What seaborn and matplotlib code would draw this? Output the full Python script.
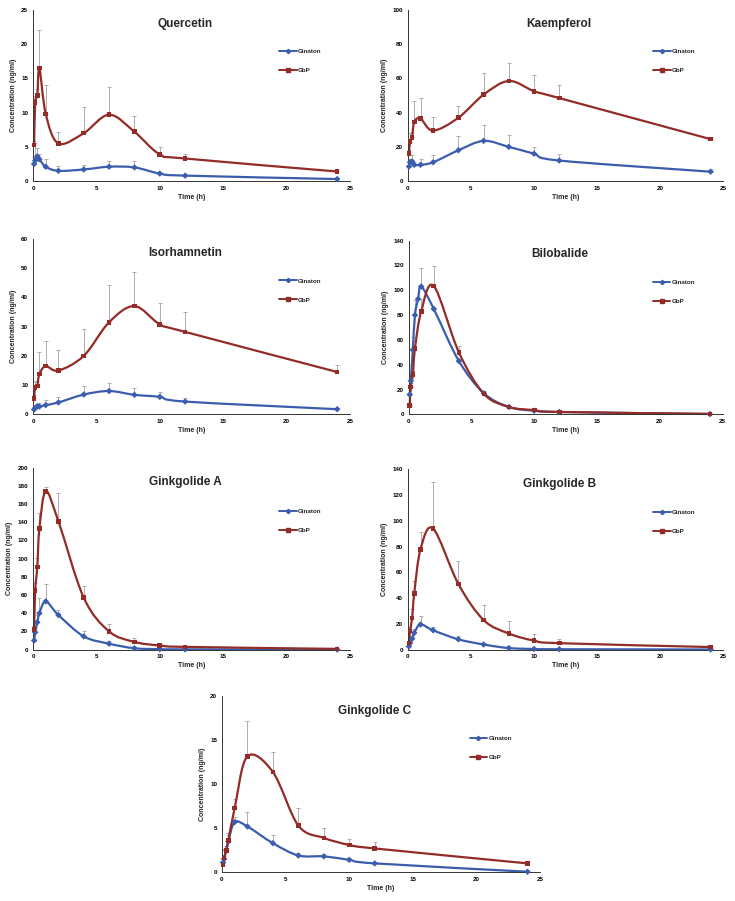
import numpy as np
import pandas as pd
import matplotlib
matplotlib.use("Agg")
import matplotlib.pyplot as plt
from matplotlib.path import Path
from matplotlib.patches import PathPatch
from matplotlib.lines import Line2D
import seaborn as sns

nan = np.nan

# sampling times (h)
times = [0.083, 0.167, 0.333, 0.5, 0.75, 1, 2, 4, 6, 8, 10, 12, 24]

# mean concentrations (ng/ml) and upper SD
quercetin_ginaton = [2.5, 3.0, 3.6, 3.2, nan, 2.1, 1.5, 1.7, 2.1, 2.0, 1.1, 0.8, 0.3]
quercetin_ginaton_sd = [1.0, 2.5, 1.3, 0.8, nan, 1.1, 0.7, 0.7, 0.8, 0.9, 0.3, 0.2, 0.1]
quercetin_gbp = [5.3, 11.5, 12.5, 16.5, nan, 9.8, 5.5, 7.0, 9.7, 7.2, 3.9, 3.3, 1.4]
quercetin_gbp_sd = [0.5, 1.0, 1.0, 5.5, nan, 4.2, 1.6, 3.8, 4.1, 2.3, 1.1, 0.7, 0.2]

kaempferol_ginaton = [8.5, 11.0, 11.5, 9.5, nan, 9.5, 11.0, 18.0, 23.5, 20.0, 16.0, 12.0, 5.5]
kaempferol_ginaton_sd = [1.0, 2.0, 3.5, 1.5, nan, 3.5, 4.5, 8.5, 9.5, 7.0, 4.0, 4.0, 1.5]
kaempferol_gbp = [16.0, 23.0, 25.5, 34.5, nan, 36.5, 29.5, 37.0, 50.5, 58.5, 52.5, 48.5, 24.5]
kaempferol_gbp_sd = [2.0, 5.0, 3.0, 12.5, nan, 12.0, 8.0, 7.0, 12.5, 10.5, 9.5, 7.5, 1.5]

isorhamnetin_ginaton = [1.7, 2.2, 2.8, 2.7, nan, 3.2, 4.1, 6.8, 8.0, 6.7, 6.0, 4.4, 1.8]
isorhamnetin_ginaton_sd = [0.3, 0.5, 0.8, 1.1, nan, 1.6, 1.7, 2.8, 2.6, 2.3, 1.8, 1.1, 0.3]
isorhamnetin_gbp = [5.5, 9.3, 9.7, 13.8, nan, 16.5, 15.0, 20.0, 31.5, 37.0, 30.8, 28.2, 14.5]
isorhamnetin_gbp_sd = [1.0, 2.0, 1.5, 7.5, nan, 8.7, 7.0, 9.2, 12.8, 11.5, 7.2, 6.8, 2.5]

bilobalide_ginaton = [16.0, 27.0, 52.0, 80.0, 93.0, 103.0, 85.0, 43.0, 17.0, 6.0, 3.0, 2.0, 0.3]
bilobalide_ginaton_sd = [4.0, 13.0, 10.0, 12.0, 0.0, 15.0, 0.0, 2.0, 1.5, 1.0, 0.5, 0.3, 0.1]
bilobalide_gbp = [7.0, 22.0, 32.0, 53.0, nan, 83.0, 103.5, 50.0, 16.5, 6.0, 3.5, 2.0, 0.5]
bilobalide_gbp_sd = [1.0, 3.0, 3.0, 6.0, nan, 10.0, 16.0, 5.0, 2.5, 1.0, 1.0, 0.5, 0.2]

ginkgolide_a_ginaton = [10.0, 19.0, 30.0, 40.0, nan, 53.0, 38.0, 14.5, 6.5, 1.5, 0.5, 0.3, 0.1]
ginkgolide_a_ginaton_sd = [2.0, 4.0, 8.0, 17.0, nan, 19.0, 5.0, 5.5, 2.5, 0.5, 0.2, 0.1, 0.0]
ginkgolide_a_gbp = [22.0, 65.0, 91.0, 133.0, nan, 174.0, 141.0, 57.0, 20.0, 8.5, 4.5, 3.0, 0.8]
ginkgolide_a_gbp_sd = [4.0, 8.0, 10.0, 17.0, nan, 5.0, 31.0, 13.0, 8.0, 4.5, 1.5, 1.0, 0.3]

ginkgolide_b_ginaton = [2.5, 5.0, 8.5, 13.0, nan, 19.5, 15.0, 8.0, 4.0, 1.2, 0.5, 0.3, 0.1]
ginkgolide_b_ginaton_sd = [0.5, 1.0, 2.0, 3.0, nan, 7.0, 2.5, 2.5, 1.5, 0.4, 0.2, 0.1, 0.0]
ginkgolide_b_gbp = [5.0, 14.5, 24.5, 43.5, nan, 78.0, 94.0, 51.0, 23.0, 12.5, 7.0, 5.0, 2.0]
ginkgolide_b_gbp_sd = [1.0, 3.0, 7.0, 10.0, nan, 13.0, 36.0, 18.0, 12.0, 9.5, 5.0, 3.0, 0.5]

ginkgolide_c_ginaton = [1.1, 1.5, 2.5, 3.5, nan, 5.7, 5.2, 3.3, 1.9, 1.8, 1.4, 1.0, 0.05]
ginkgolide_c_ginaton_sd = [0.2, 0.3, 0.5, 1.0, nan, 0.6, 1.6, 0.9, 0.3, 0.3, 0.2, 0.2, 0.0]
ginkgolide_c_gbp = [0.8, 1.6, 2.5, 3.6, nan, 7.3, 13.2, 11.4, 5.3, 3.9, 3.1, 2.7, 1.0]
ginkgolide_c_gbp_sd = [0.2, 0.3, 0.5, 0.6, nan, 1.0, 4.0, 2.3, 2.0, 1.1, 0.7, 0.7, 0.1]

compounds = ["Quercetin", "Kaempferol", "Isorhamnetin", "Bilobalide",
             "Ginkgolide A", "Ginkgolide B", "Ginkgolide C"]
series = {
    "Quercetin": (quercetin_ginaton, quercetin_ginaton_sd, quercetin_gbp, quercetin_gbp_sd),
    "Kaempferol": (kaempferol_ginaton, kaempferol_ginaton_sd, kaempferol_gbp, kaempferol_gbp_sd),
    "Isorhamnetin": (isorhamnetin_ginaton, isorhamnetin_ginaton_sd, isorhamnetin_gbp, isorhamnetin_gbp_sd),
    "Bilobalide": (bilobalide_ginaton, bilobalide_ginaton_sd, bilobalide_gbp, bilobalide_gbp_sd),
    "Ginkgolide A": (ginkgolide_a_ginaton, ginkgolide_a_ginaton_sd, ginkgolide_a_gbp, ginkgolide_a_gbp_sd),
    "Ginkgolide B": (ginkgolide_b_ginaton, ginkgolide_b_ginaton_sd, ginkgolide_b_gbp, ginkgolide_b_gbp_sd),
    "Ginkgolide C": (ginkgolide_c_ginaton, ginkgolide_c_ginaton_sd, ginkgolide_c_gbp, ginkgolide_c_gbp_sd),
}
y_max = [25, 100, 60, 140, 200, 140, 20]
y_step = [5, 20, 10, 20, 20, 20, 5]

# axes rectangles in figure fractions (left, bottom, width, height)
rects = [
    (0.045, 0.799, 0.431, 0.190),
    (0.555, 0.799, 0.429, 0.190),
    (0.045, 0.540, 0.431, 0.195),
    (0.556, 0.540, 0.427, 0.193),
    (0.045, 0.279, 0.431, 0.202),
    (0.555, 0.279, 0.429, 0.200),
    (0.302, 0.032, 0.433, 0.195),
]

BLUE = "#3A5DAE"
RED = "#932B27"

sns.set_style("white")
plt.rcParams["font.family"] = ["Liberation Sans", "DejaVu Sans"]
plt.rcParams["font.weight"] = "bold"


# Excel-like smoothed line through the points (cubic Bezier, Catmull-Rom tangents)
def smooth_path(x, y):
    p = np.column_stack([x, y])
    n = len(p)
    verts = [p[0]]
    codes = [Path.MOVETO]
    for i in range(n - 1):
        p0 = p[i - 1] if i > 0 else p[i]
        p3 = p[i + 2] if i + 2 < n else p[i + 1]
        c1 = p[i] + (p[i + 1] - p0) / 6.0
        c2 = p[i + 1] - (p3 - p[i]) / 6.0
        verts += [c1, c2, p[i + 1]]
        codes += [Path.CURVE4] * 3
    return Path(verts, codes)


fig = plt.figure(figsize=(7.35, 9.01), dpi=100)

for k, name in enumerate(compounds):
    ax = fig.add_axes(rects[k])
    g_mean, g_sd, p_mean, p_sd = series[name]
    rows = []
    for label, mean, sd, color in [("Ginaton", g_mean, g_sd, BLUE), ("GbP", p_mean, p_sd, RED)]:
        df = pd.DataFrame({"time": times, "conc": mean, "sd": sd}).dropna()
        df["group"] = label
        rows.append(df)
        ax.errorbar(df["time"], df["conc"], yerr=[np.zeros(len(df)), df["sd"]],
                    fmt="none", ecolor="#a4a0a0", elinewidth=0.6, capsize=1.3,
                    capthick=0.6, zorder=1, clip_on=False)
        ax.add_patch(PathPatch(smooth_path(df["time"].values, df["conc"].values),
                               fill=False, edgecolor=color, lw=1.6, zorder=2,
                               clip_on=False))
    data = pd.concat(rows)
    sns.scatterplot(data=data, x="time", y="conc", hue="group", style="group",
                    palette={"Ginaton": BLUE, "GbP": RED},
                    markers={"Ginaton": "D", "GbP": "s"},
                    s=11, linewidth=0, legend=False, ax=ax, zorder=3, clip_on=False)

    ax.set_xlim(0, 25)
    ax.set_ylim(0, y_max[k])
    ax.set_xticks(range(0, 26, 5))
    ax.set_yticks(np.arange(0, y_max[k] + 1, y_step[k]))
    ax.tick_params(axis="both", labelsize=4.5, length=2, width=0.6,
                   direction="out", pad=1.5, colors="black")
    for lab in ax.get_xticklabels() + ax.get_yticklabels():
        lab.set_fontweight("bold")
    for side in ["top", "right"]:
        ax.spines[side].set_visible(False)
    for side in ["left", "bottom"]:
        ax.spines[side].set_linewidth(0.7)
        ax.spines[side].set_color("#333333")
    ax.set_xlabel("Time (h)", fontsize=5, fontweight="bold", labelpad=2)
    ax.set_ylabel("Concentration (ng/ml)", fontsize=5, fontweight="bold", labelpad=3)
    ax.text(0.48, 0.92, name, transform=ax.transAxes, ha="center",
            va="center", fontsize=8.5, fontweight="bold")

    handles = [Line2D([], [], color=BLUE, lw=1.4, marker="D", markersize=2.2),
               Line2D([], [], color=RED, lw=1.4, marker="s", markersize=2.8)]
    leg = ax.legend(handles, ["Ginaton", "GbP"], loc="upper left",
                    bbox_to_anchor=(0.77, 0.79), frameon=False, fontsize=4.5,
                    labelspacing=2.2, handlelength=2.8, handletextpad=0.2,
                    borderaxespad=0)
    for t in leg.get_texts():
        t.set_fontweight("bold")

fig.savefig("out.png", dpi=100)
